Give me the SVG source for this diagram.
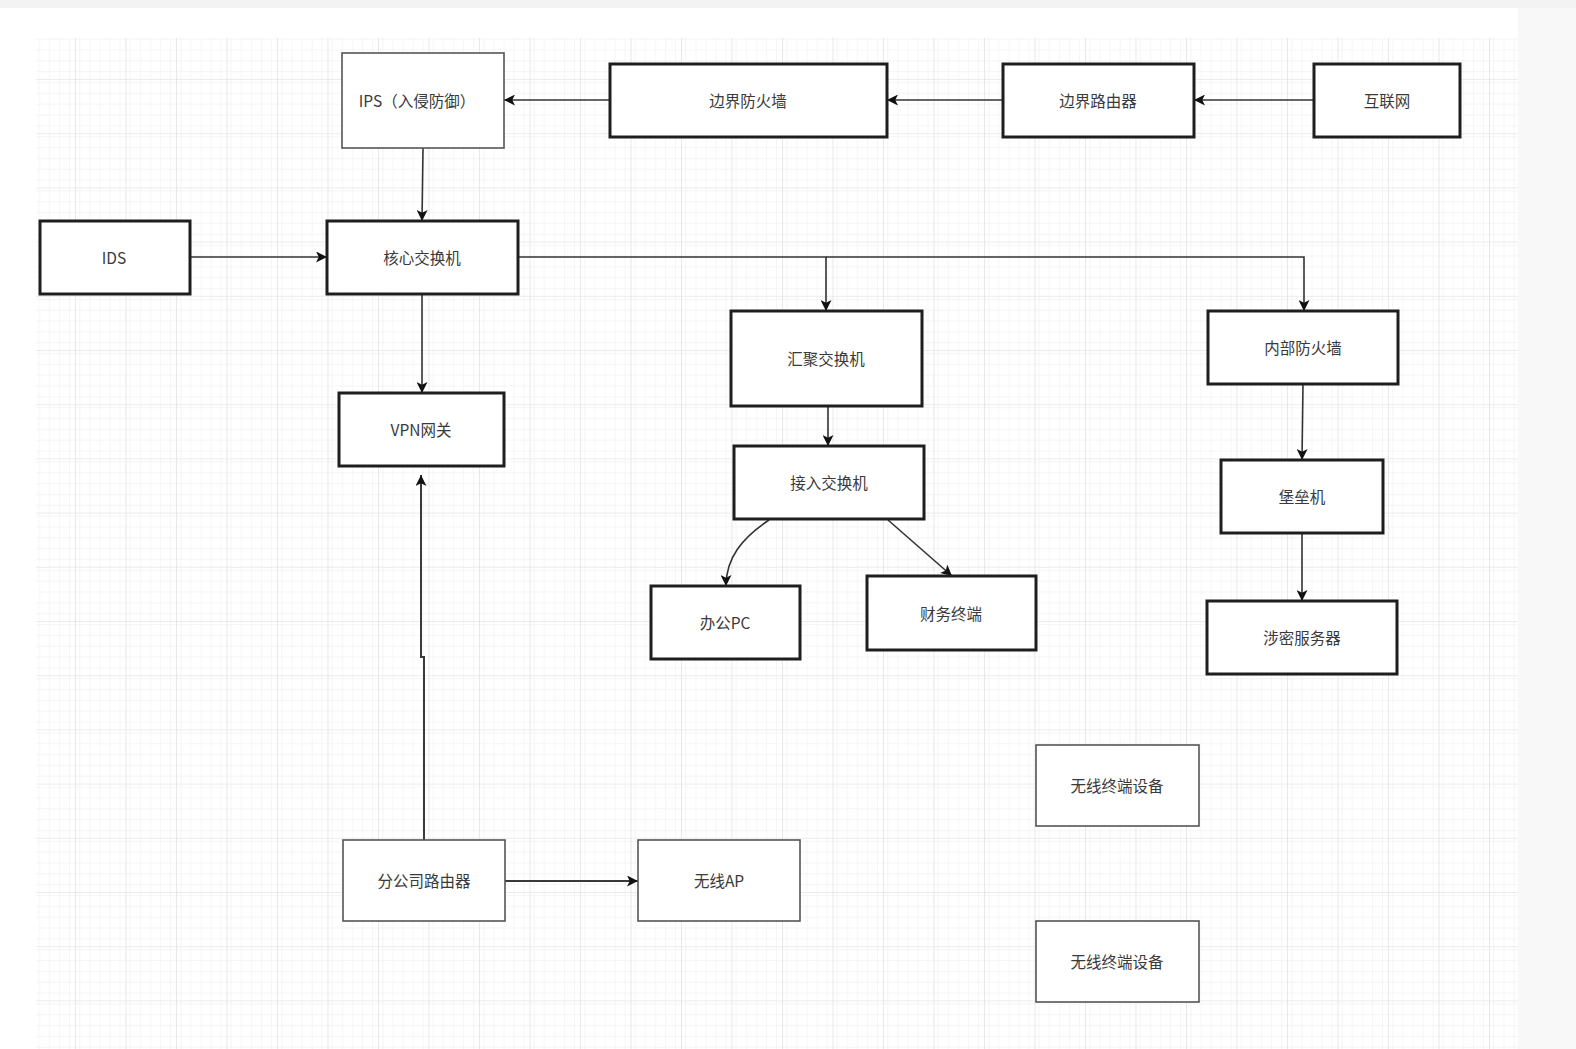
<svg xmlns="http://www.w3.org/2000/svg" width="1576" height="1049" viewBox="0 0 1576 1049">
  <style>
    .thick { fill: #ffffff; stroke: #1e1e1e; stroke-width: 3; }
    .thin { fill: #ffffff; stroke: #555555; stroke-width: 1.6; }
    .lbl { font-family: "Noto Sans CJK SC", "Liberation Sans", sans-serif; font-size: 15.5px; fill: #3a3a3a; text-anchor: middle; dominant-baseline: central; }
    .edge { fill: none; stroke: #333333; stroke-width: 1.6; marker-end: url(#arr); }
    .edge2 { fill: none; stroke: #3a3a3a; stroke-width: 2; marker-end: url(#arr); }
  </style>
  <defs>
    <marker id="arr" viewBox="0 0 10 10" refX="10" refY="5" markerWidth="11" markerHeight="11" markerUnits="userSpaceOnUse" orient="auto">
      <path d="M0,0 L10,5 L0,10 L2.5,5 Z" fill="#111111"/>
    </marker>
    <pattern id="minor" x="24.5" y="24.8" width="10.1" height="10.84" patternUnits="userSpaceOnUse">
      <path d="M0,0 V10.84 M0,0 H10.1" fill="none" stroke="#ececec" stroke-width="1"/>
    </pattern>
    <pattern id="major" x="24.5" y="24.8" width="50.5" height="54.2" patternUnits="userSpaceOnUse">
      <rect width="50.5" height="54.2" fill="url(#minor)"/>
      <path d="M0,0 V54.2 M0,0 H50.5" fill="none" stroke="#dadada" stroke-width="1.2"/>
    </pattern>
  </defs>

  <rect width="1576" height="1049" fill="#ffffff"/>
  <rect width="1576" height="8" fill="#f3f3f3"/>
  <rect x="1518" y="8" width="58" height="1041" fill="#f8f8f8"/>
  <rect x="36" y="38" width="1482" height="1011" fill="url(#major)"/>

  <g id="connectors">
    <path class="edge" d="M610,100 H504"/>
    <path class="edge" d="M1003,100 H887"/>
    <path class="edge" d="M1314,100 H1194"/>
    <path class="edge" d="M423,148 L422,221"/>
    <path class="edge" d="M190,257 H327"/>
    <path class="edge" d="M518,257 H826 V311"/>
    <path class="edge" d="M826,257 H1304 V311"/>
    <path class="edge" d="M422,294 V393"/>
    <path class="edge" d="M828,406 V446"/>
    <path class="edge" d="M769,520 C742,538 726,558 726,586"/>
    <path class="edge" d="M888,520 L952,576"/>
    <path class="edge" d="M1303,384 L1302,460"/>
    <path class="edge" d="M1302,533 V601"/>
    <path class="edge2" d="M424,840 V657 H421 V475"/>
    <path class="edge2" d="M505,881 H638"/>
  </g>

  <g id="node-ips"><rect class="thin" x="342" y="53" width="162" height="95"/><text class="lbl" x="417" y="100">IPS（入侵防御）</text></g>
  <g id="node-border-fw"><rect class="thick" x="610" y="64" width="277" height="73"/><text class="lbl" x="748" y="100">边界防火墙</text></g>
  <g id="node-border-router"><rect class="thick" x="1003" y="64" width="191" height="73"/><text class="lbl" x="1098" y="100">边界路由器</text></g>
  <g id="node-internet"><rect class="thick" x="1314" y="64" width="146" height="73"/><text class="lbl" x="1387" y="100">互联网</text></g>
  <g id="node-ids"><rect class="thick" x="40" y="221" width="150" height="73"/><text class="lbl" x="114" y="257">IDS</text></g>
  <g id="node-core"><rect class="thick" x="327" y="221" width="191" height="73"/><text class="lbl" x="422" y="257">核心交换机</text></g>
  <g id="node-vpn"><rect class="thick" x="339" y="393" width="165" height="73"/><text class="lbl" x="421" y="429">VPN网关</text></g>
  <g id="node-agg"><rect class="thick" x="731" y="311" width="191" height="95"/><text class="lbl" x="826" y="358">汇聚交换机</text></g>
  <g id="node-inner-fw"><rect class="thick" x="1208" y="311" width="190" height="73"/><text class="lbl" x="1303" y="347">内部防火墙</text></g>
  <g id="node-access"><rect class="thick" x="734" y="446" width="190" height="73"/><text class="lbl" x="829" y="482">接入交换机</text></g>
  <g id="node-bastion"><rect class="thick" x="1221" y="460" width="162" height="73"/><text class="lbl" x="1302" y="496">堡垒机</text></g>
  <g id="node-office-pc"><rect class="thick" x="651" y="586" width="149" height="73"/><text class="lbl" x="725" y="622">办公PC</text></g>
  <g id="node-finance"><rect class="thick" x="867" y="576" width="169" height="74"/><text class="lbl" x="951" y="613">财务终端</text></g>
  <g id="node-secret"><rect class="thick" x="1207" y="601" width="190" height="73"/><text class="lbl" x="1302" y="637">涉密服务器</text></g>
  <g id="node-wireless-1"><rect class="thin" x="1036" y="745" width="163" height="81"/><text class="lbl" x="1117" y="785">无线终端设备</text></g>
  <g id="node-wireless-2"><rect class="thin" x="1036" y="921" width="163" height="81"/><text class="lbl" x="1117" y="961">无线终端设备</text></g>
  <g id="node-branch-router"><rect class="thin" x="343" y="840" width="162" height="81"/><text class="lbl" x="424" y="880">分公司路由器</text></g>
  <g id="node-wireless-ap"><rect class="thin" x="638" y="840" width="162" height="81"/><text class="lbl" x="719" y="880">无线AP</text></g>
</svg>
